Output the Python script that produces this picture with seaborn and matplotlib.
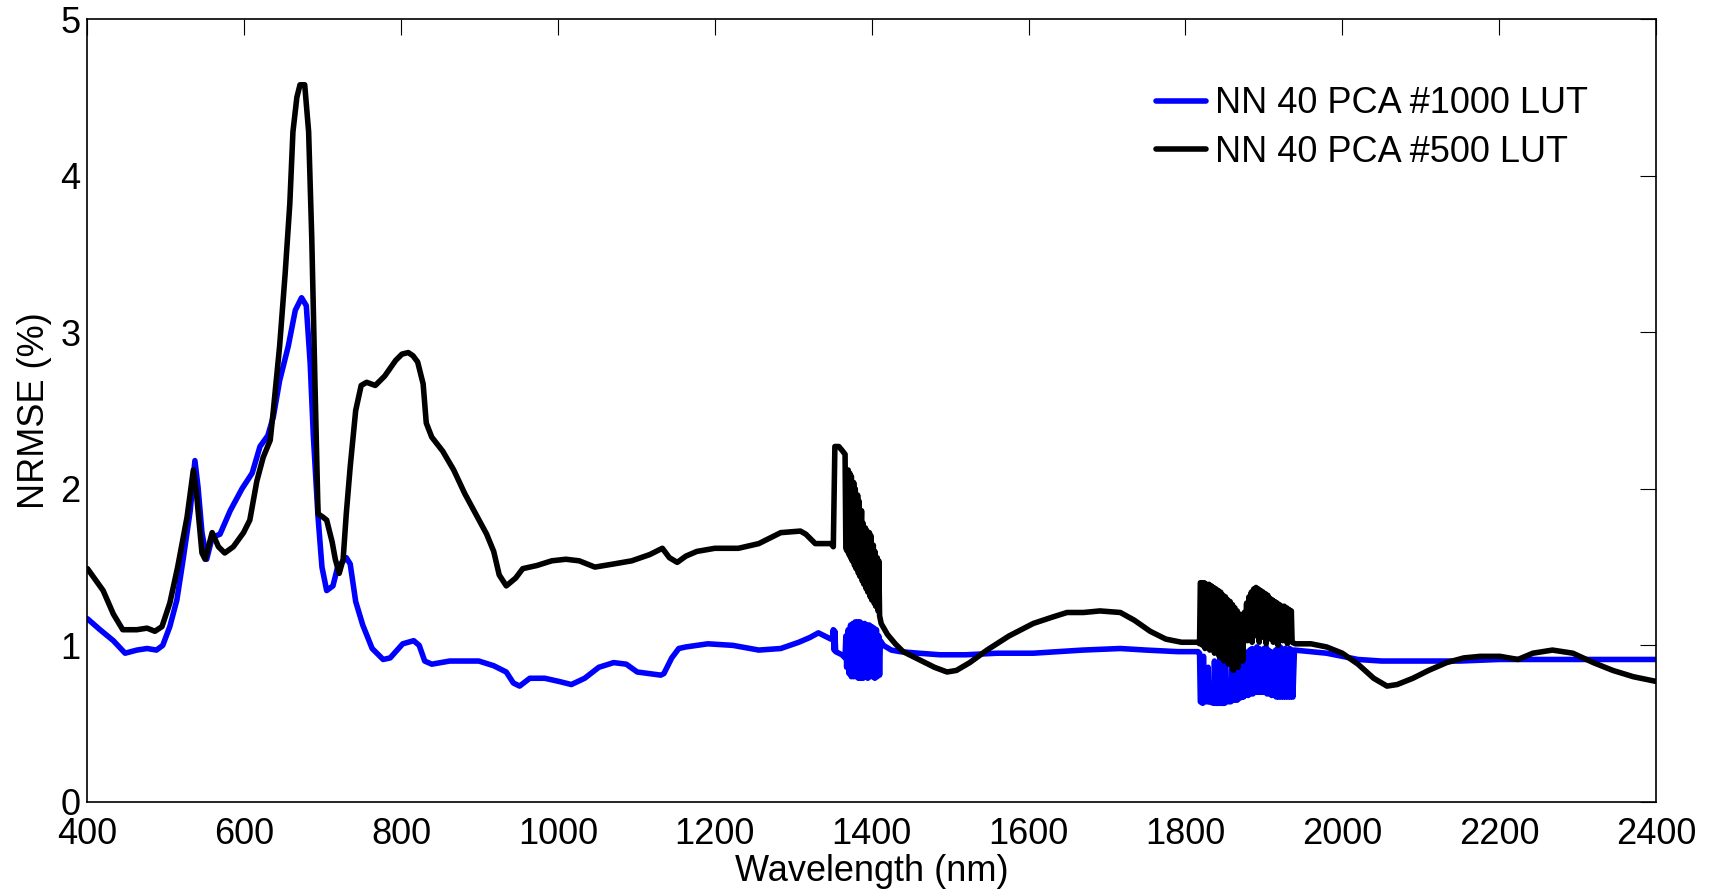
import matplotlib
matplotlib.use("Agg")
import matplotlib.pyplot as plt
import pandas as pd
import seaborn as sns

# ---- NRMSE (%) versus wavelength (nm), as (wavelength, value) pairs ----
# NN 40 PCA #1000 LUT
lut1000_vis = [
    (400, 1.17), (416, 1.10), (433, 1.03), (448, 0.95), (463, 0.97), (476, 0.98),
    (488, 0.97), (496, 1.00), (505, 1.12), (514, 1.29), (522, 1.55), (531, 1.86),
    (537, 2.18), (541, 2.01), (546, 1.72), (552, 1.55), (559, 1.69), (569, 1.71),
    (582, 1.86), (597, 2.00), (610, 2.10), (620, 2.27), (630, 2.34), (637, 2.46),
    (645, 2.69), (656, 2.91), (665, 3.14), (673, 3.22), (679, 3.17), (684, 2.80),
    (688, 2.34), (694, 1.82), (699, 1.50), (705, 1.35), (713, 1.38), (719, 1.50),
    (730, 1.56), (735, 1.52), (742, 1.28), (751, 1.13), (763, 0.98), (777, 0.91),
    (786, 0.92), (802, 1.01), (816, 1.03), (823, 1.00), (830, 0.90), (839, 0.88),
    (862, 0.90), (899, 0.90), (918, 0.87), (934, 0.83), (943, 0.76), (951, 0.74),
    (964, 0.79), (983, 0.79), (1001, 0.77), (1017, 0.75), (1034, 0.79), (1052, 0.86),
    (1071, 0.89), (1087, 0.88), (1101, 0.83), (1131, 0.81), (1135, 0.82), (1145, 0.92),
    (1154, 0.98), (1163, 0.99), (1191, 1.01), (1223, 1.00), (1256, 0.97), (1284, 0.98),
    (1307, 1.02), (1321, 1.05), (1332, 1.08), (1348, 1.04),
]
lut1000_band1 = [
    (1350, 1.05), (1351, 1.10), (1352, 0.97), (1353, 1.09), (1354, 0.96), (1358, 0.95),
    (1362, 0.94), (1366, 0.92), (1367, 1.06), (1368, 0.86), (1370, 1.10), (1371, 0.82),
    (1373, 1.13), (1374, 0.80), (1376, 1.14), (1377, 0.80), (1379, 1.15), (1380, 0.80),
    (1382, 1.15), (1383, 0.79), (1385, 1.15), (1386, 0.79), (1388, 1.14), (1389, 0.79),
    (1391, 1.14), (1392, 0.80), (1394, 1.13), (1395, 0.79), (1397, 1.13), (1398, 0.80),
    (1400, 1.12), (1401, 0.80), (1403, 1.11), (1404, 0.79), (1406, 1.10), (1407, 0.80),
    (1409, 1.06), (1410, 0.81), (1411, 1.03),
]
lut1000_swir1 = [
    (1415, 1.00), (1425, 0.97), (1436, 0.96), (1460, 0.95), (1487, 0.94), (1520, 0.94),
    (1560, 0.95), (1606, 0.95), (1669, 0.97), (1717, 0.98), (1750, 0.97), (1790, 0.96),
    (1816, 0.96),
]
lut1000_band2 = [
    (1818, 0.95), (1819, 0.64), (1822, 0.63), (1823, 0.93), (1824, 0.64), (1828, 0.64),
    (1829, 0.86), (1830, 0.64), (1836, 0.63), (1837, 0.90), (1838, 0.63), (1843, 0.63),
    (1844, 0.92), (1845, 0.63), (1850, 0.63), (1851, 0.88), (1852, 0.64), (1858, 0.64),
    (1859, 0.95), (1860, 0.65), (1866, 0.65), (1867, 0.87), (1868, 0.66), (1872, 0.67),
    (1873, 0.97), (1874, 0.67), (1876, 0.96), (1877, 0.68), (1879, 0.95), (1880, 0.68),
    (1882, 0.97), (1883, 0.69), (1885, 0.98), (1886, 0.69), (1888, 0.97), (1889, 0.70),
    (1891, 0.99), (1892, 0.70), (1894, 0.98), (1895, 0.70), (1897, 0.96), (1898, 0.70),
    (1900, 0.98), (1901, 0.70), (1903, 0.99), (1904, 0.69), (1906, 0.97), (1907, 0.69),
    (1909, 0.96), (1910, 0.68), (1912, 0.95), (1913, 0.68), (1915, 0.97), (1916, 0.67),
    (1918, 0.98), (1919, 0.67), (1921, 0.99), (1922, 0.67), (1924, 0.97), (1925, 0.67),
    (1927, 0.98), (1928, 0.67), (1930, 0.97), (1931, 0.67), (1933, 0.98), (1934, 0.67),
    (1936, 0.97), (1937, 0.67), (1939, 0.97),
]
lut1000_swir2 = [
    (1960, 0.96), (1980, 0.95), (2000, 0.93), (2020, 0.91), (2050, 0.90), (2100, 0.90),
    (2150, 0.90), (2200, 0.91), (2300, 0.91), (2400, 0.91),
]

# NN 40 PCA #500 LUT
lut500_vis = [
    (400, 1.49), (420, 1.35), (433, 1.20), (445, 1.10), (463, 1.10), (476, 1.11),
    (486, 1.09), (495, 1.12), (505, 1.27), (515, 1.50), (527, 1.82), (535, 2.12),
    (539, 1.97), (546, 1.59), (550, 1.55), (559, 1.72), (567, 1.63), (575, 1.59),
    (586, 1.63), (599, 1.72), (607, 1.80), (616, 2.05), (624, 2.20), (633, 2.31),
    (637, 2.50), (645, 2.91), (652, 3.37), (658, 3.82), (662, 4.28), (667, 4.50),
    (671, 4.58), (677, 4.58), (682, 4.28), (686, 3.60), (690, 2.69), (694, 1.84),
    (700, 1.82), (705, 1.80), (712, 1.66), (716, 1.55), (721, 1.46), (726, 1.55),
    (730, 1.84), (735, 2.14), (742, 2.50), (749, 2.66), (756, 2.68), (767, 2.66),
    (779, 2.72), (793, 2.82), (801, 2.86), (809, 2.87), (815, 2.85), (821, 2.81),
    (828, 2.67), (832, 2.42), (839, 2.33), (853, 2.24), (867, 2.12), (881, 1.97),
    (895, 1.84), (909, 1.71), (918, 1.60), (925, 1.45), (934, 1.38), (946, 1.43),
    (955, 1.49), (973, 1.51), (992, 1.54), (1010, 1.55), (1027, 1.54), (1047, 1.50),
    (1071, 1.52), (1094, 1.54), (1117, 1.58), (1133, 1.62), (1142, 1.56), (1152, 1.53),
    (1163, 1.57), (1177, 1.60), (1200, 1.62), (1230, 1.62), (1256, 1.65), (1284, 1.72),
    (1309, 1.73), (1316, 1.71), (1328, 1.65), (1348, 1.65),
]
lut500_band1 = [
    (1351, 1.63), (1353, 2.27), (1358, 2.27), (1363, 2.24), (1366, 2.22), (1367, 1.62),
    (1369, 1.60), (1370, 2.12), (1371, 1.58), (1372, 2.10), (1373, 1.56), (1374, 2.08),
    (1375, 1.54), (1377, 2.04), (1378, 1.51), (1379, 2.00), (1380, 1.49), (1382, 1.96),
    (1383, 1.46), (1384, 1.92), (1385, 1.44), (1387, 1.86), (1388, 1.41), (1389, 1.78),
    (1390, 1.39), (1392, 1.75), (1393, 1.36), (1394, 1.73), (1395, 1.34), (1397, 1.72),
    (1398, 1.31), (1399, 1.70), (1400, 1.29), (1402, 1.64), (1403, 1.27), (1404, 1.60),
    (1405, 1.25), (1407, 1.56), (1408, 1.22), (1409, 1.54), (1410, 1.19),
]
lut500_swir1 = [
    (1412, 1.14), (1420, 1.07), (1430, 1.01), (1440, 0.96), (1460, 0.91), (1480, 0.86),
    (1496, 0.83), (1508, 0.84), (1525, 0.89), (1547, 0.97), (1575, 1.06), (1606, 1.14),
    (1630, 1.18), (1649, 1.21), (1670, 1.21), (1691, 1.22), (1717, 1.21), (1735, 1.16),
    (1755, 1.09), (1775, 1.04), (1795, 1.02), (1816, 1.02),
]
lut500_band2 = [
    (1818, 1.01), (1819, 1.40), (1821, 1.40), (1822, 1.00), (1824, 1.40), (1825, 0.98),
    (1827, 1.39), (1828, 1.02), (1830, 1.39), (1831, 0.97), (1833, 1.38), (1834, 1.01),
    (1836, 1.37), (1837, 0.95), (1839, 1.36), (1840, 1.00), (1842, 1.35), (1843, 0.93),
    (1845, 1.34), (1846, 0.92), (1848, 1.32), (1849, 0.90), (1851, 1.31), (1852, 0.96),
    (1854, 1.29), (1855, 0.88), (1857, 1.28), (1858, 0.94), (1860, 1.26), (1861, 0.84),
    (1863, 1.24), (1864, 0.97), (1866, 1.22), (1867, 0.86), (1869, 1.20), (1870, 1.02),
    (1872, 1.19), (1873, 0.90), (1875, 1.21), (1876, 1.05), (1878, 1.27), (1879, 1.03),
    (1881, 1.31), (1882, 1.07), (1884, 1.34), (1885, 1.02), (1887, 1.36), (1888, 1.08),
    (1890, 1.37), (1891, 1.06), (1893, 1.36), (1894, 1.02), (1896, 1.35), (1897, 1.07),
    (1899, 1.34), (1900, 1.05), (1902, 1.33), (1903, 1.01), (1905, 1.32), (1906, 1.08),
    (1908, 1.30), (1909, 1.04), (1911, 1.29), (1912, 1.02), (1914, 1.28), (1915, 1.06),
    (1917, 1.27), (1918, 1.00), (1920, 1.26), (1921, 1.04), (1923, 1.25), (1924, 1.03),
    (1926, 1.25), (1927, 1.06), (1929, 1.24), (1930, 1.01), (1932, 1.23), (1933, 1.03),
    (1935, 1.22), (1936, 1.02),
]
lut500_swir2 = [
    (1940, 1.01), (1960, 1.01), (1980, 0.99), (2000, 0.95), (2020, 0.88), (2040, 0.79),
    (2057, 0.74), (2070, 0.75), (2090, 0.79), (2110, 0.84), (2133, 0.89), (2155, 0.92),
    (2176, 0.93), (2201, 0.93), (2224, 0.91), (2243, 0.95), (2268, 0.97), (2294, 0.95),
    (2320, 0.89), (2345, 0.84), (2371, 0.80), (2400, 0.77),
]

series_names = ["NN 40 PCA #1000 LUT", "NN 40 PCA #500 LUT"]
series_colors = ["#0000FF", "#000000"]
series_parts = [
    [lut1000_vis, lut1000_band1, lut1000_swir1, lut1000_band2, lut1000_swir2],
    [lut500_vis, lut500_band1, lut500_swir1, lut500_band2, lut500_swir2],
]
x_ticks = [400, 600, 800, 1000, 1200, 1400, 1600, 1800, 2000, 2200, 2400]
y_ticks = [0, 1, 2, 3, 4, 5]

frames = []
for name, parts in zip(series_names, series_parts):
    pts = [p for part in parts for p in part]
    frames.append(pd.DataFrame({
        "Wavelength": [p[0] for p in pts],
        "NRMSE": [p[1] for p in pts],
        "run": name,
    }))
df = pd.concat(frames, ignore_index=True)

sns.set_theme(style="white")
plt.rcParams["font.family"] = ["Liberation Sans", "DejaVu Sans"]
plt.rcParams["text.color"] = "black"
plt.rcParams["axes.labelcolor"] = "black"
plt.rcParams["lines.solid_joinstyle"] = "round"
plt.rcParams["lines.solid_capstyle"] = "round"

fig = plt.figure(figsize=(17.15, 8.89), dpi=100)
ax = fig.add_axes([0.051, 0.0979, 0.9146, 0.8807])

sns.lineplot(
    data=df, x="Wavelength", y="NRMSE", hue="run",
    hue_order=series_names, palette=dict(zip(series_names, series_colors)),
    estimator=None, sort=False, linewidth=4.0, ax=ax,
)

ax.set_xlim(400, 2400)
ax.set_ylim(0, 5)
ax.set_xticks(x_ticks)
ax.set_yticks(y_ticks)
ax.set_xlabel("Wavelength (nm)", fontsize=26, labelpad=1)
ax.set_ylabel("NRMSE (%)", fontsize=26, labelpad=6)
ax.tick_params(axis="both", which="both", direction="in", length=11.3, width=0.8,
               top=True, right=True, colors="black", labelsize=26)
ax.tick_params(axis="x", pad=11)
ax.tick_params(axis="y", pad=5)
for sp in ax.spines.values():
    sp.set_color("black")
    sp.set_linewidth(1.2)

handles, labels = ax.get_legend_handles_labels()
ax.legend(handles, labels, loc="upper left", bbox_to_anchor=(0.681, 0.914),
          frameon=False, fontsize=26, borderpad=0, borderaxespad=0,
          handlelength=1.4, handletextpad=0.25, labelspacing=0.37)

fig.savefig("out.png", dpi=100, facecolor="white")
